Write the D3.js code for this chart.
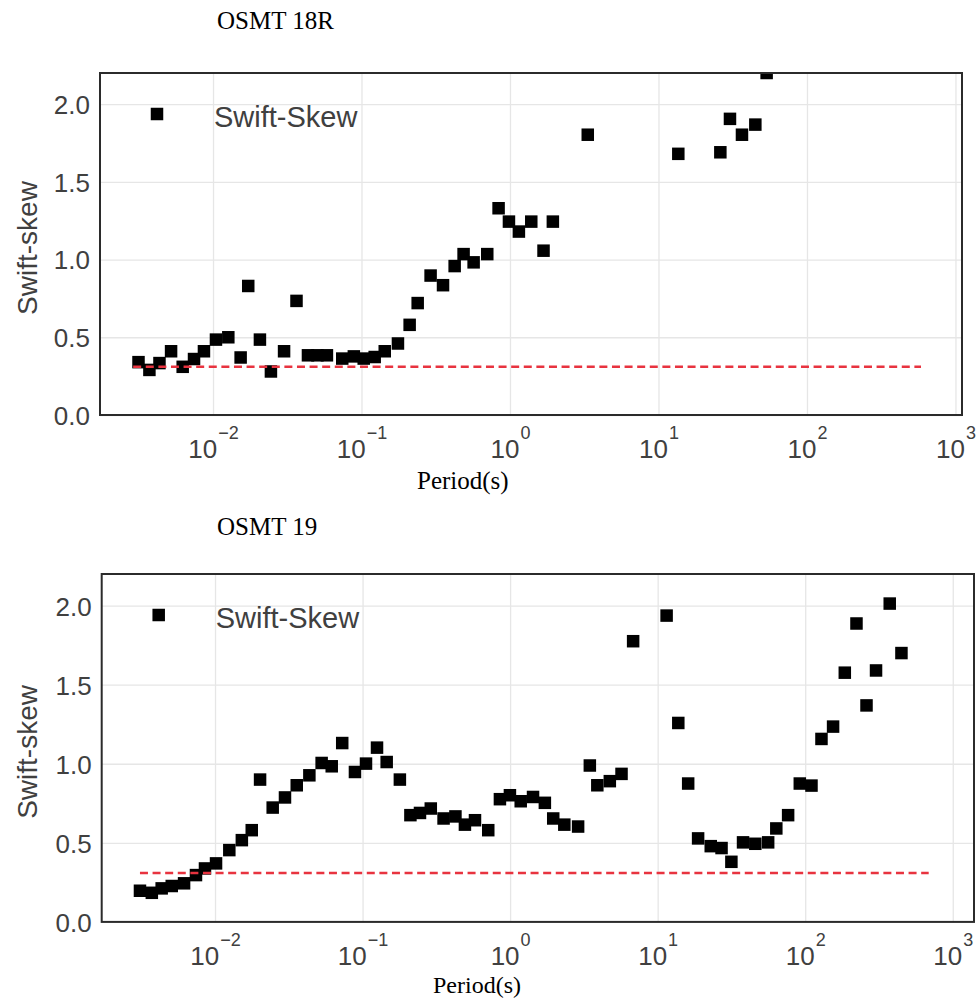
<!DOCTYPE html>
<html>
<head>
<meta charset="utf-8">
<script src="https://cdn.jsdelivr.net/npm/d3@7"></script>
<style>
  body { margin: 0; background: #fff; }
  svg { display: block; }
</style>
</head>
<body>
<div id="chart"></div>
<script>
// data
var yTicks = [0, 0.5, 1.0, 1.5, 2.0];
var xTickExps = [-2, -1, 0, 1, 2, 3];
var thresholdSkew = 0.31;

var topTitle = "OSMT 18R";
var topPeriods = [0.00315, 0.00373, 0.00436, 0.00522, 0.00625, 0.00745, 0.00869, 0.01047, 0.01268, 0.01535,
  0.01727, 0.0207, 0.02455, 0.0301, 0.0365, 0.0436, 0.0505, 0.0585, 0.0742, 0.0888,
  0.1035, 0.1227, 0.1434, 0.176, 0.211, 0.239, 0.292, 0.354, 0.424, 0.487,
  0.569, 0.703, 0.838, 0.984, 1.148, 1.391, 1.682, 1.944, 3.34, 13.6,
  26.1, 30.3, 36.5, 44.9, 53.5];
var topSkew = [0.34, 0.29, 0.334, 0.41, 0.31, 0.36, 0.41, 0.485, 0.50, 0.37,
  0.83, 0.485, 0.28, 0.41, 0.734, 0.384, 0.384, 0.384, 0.363, 0.377,
  0.363, 0.373, 0.41, 0.46, 0.58, 0.72, 0.897, 0.835, 0.958, 1.035,
  0.982, 1.035, 1.33, 1.244, 1.18, 1.244, 1.057, 1.244, 1.803, 1.68,
  1.69, 1.905, 1.803, 1.868, 2.2];
var topThresholdRange = [0.0029, 586];

var bottomTitle = "OSMT 19";
var bottomPeriods = [0.0031, 0.00373, 0.00435, 0.00509, 0.00617, 0.00743, 0.00855, 0.01016, 0.0125, 0.0152,
  0.01774, 0.0202, 0.0246, 0.0298, 0.0358, 0.0436, 0.0528, 0.0618, 0.0728, 0.0888,
  0.1055, 0.1253, 0.1457, 0.179, 0.211, 0.245, 0.290, 0.354, 0.426, 0.494,
  0.578, 0.711, 0.853, 0.997, 1.18, 1.43, 1.72, 1.96, 2.33, 2.89,
  3.47, 3.90, 4.74, 5.69, 6.82, 11.5, 13.8, 16.1, 18.8, 22.9,
  27.1, 31.6, 37.9, 45.9, 56.1, 63.7, 76.6, 91.9, 110.3, 128.9,
  154.5, 185.5, 222.6, 260.3, 302, 374, 449];
var bottomSkew = [0.197, 0.184, 0.212, 0.227, 0.244, 0.296, 0.338, 0.37, 0.454, 0.517,
  0.58, 0.90, 0.723, 0.787, 0.864, 0.927, 1.005, 0.984, 1.131, 0.948,
  1.001, 1.102, 1.011, 0.90, 0.675, 0.689, 0.717, 0.654, 0.667, 0.615,
  0.643, 0.58, 0.776, 0.801, 0.763, 0.79, 0.753, 0.654, 0.615, 0.603,
  0.989, 0.864, 0.89, 0.936, 1.775, 1.937, 1.258, 0.875, 0.528, 0.479,
  0.467, 0.38, 0.503, 0.494, 0.503, 0.591, 0.675, 0.875, 0.862, 1.157,
  1.235, 1.576, 1.887, 1.369, 1.59, 2.013, 1.70];
var bottomThresholdRange = [0.0031, 687];

var svg = d3.select('#chart').append('svg').attr('width', 977).attr('height', 999);

var tickColor = '#404040';

function drawPanel(id, title, periods, skew, thr, box, xlog, xlabelPos, titleY) {
  var x = d3.scaleLog().domain([Math.pow(10, xlog[0]), Math.pow(10, xlog[1])]).range([box.left, box.right]);
  var y = d3.scaleLinear().domain([0, 2.2]).range([box.bottom, box.top]);
  var g = svg.append('g');

  g.append('clipPath').attr('id', 'clip' + id)
    .append('rect').attr('x', box.left).attr('y', box.top)
    .attr('width', box.right - box.left).attr('height', box.bottom - box.top);

  var xTicks = xTickExps.map(function(e){ return Math.pow(10, e); });

  // grid
  g.append('g').attr('transform', 'translate(0,' + box.bottom + ')')
    .call(d3.axisBottom(x).tickValues(xTicks).tickSize(-(box.bottom - box.top)).tickFormat(''))
    .call(function(s){ s.select('.domain').remove(); s.selectAll('line').attr('stroke', '#e6e6e6').attr('stroke-width', 1.3); });
  g.append('g').attr('transform', 'translate(' + box.left + ',0)')
    .call(d3.axisLeft(y).tickValues(yTicks).tickSize(-(box.right - box.left)).tickFormat(''))
    .call(function(s){ s.select('.domain').remove(); s.selectAll('line').attr('stroke', '#e6e6e6').attr('stroke-width', 1.3); });

  // tick labels
  var xa = g.append('g').attr('transform', 'translate(0,' + box.bottom + ')')
    .call(d3.axisBottom(x).tickValues(xTicks).tickSize(0).tickFormat(''));
  xa.select('.domain').remove();
  xa.selectAll('.tick text').each(function(d, i) {
    var t = d3.select(this).attr('y', 43).attr('dy', null)
      .attr('fill', tickColor).style('font-family', '"Liberation Sans", Arial, sans-serif').style('font-size', '26px');
    t.text('');
    t.append('tspan').text('10');
    t.append('tspan').attr('dy', -19).attr('dx', 1).style('font-size', '18px')
      .text(String(xTickExps[i]).replace('-', '\u2212'));
  });

  var ya = g.append('g').attr('transform', 'translate(' + box.left + ',0)')
    .call(d3.axisLeft(y).tickValues(yTicks).tickSize(0).tickPadding(10).tickFormat(d3.format('.1f')));
  ya.select('.domain').remove();
  ya.selectAll('.tick text').attr('fill', tickColor).attr('dy', '0.36em')
    .style('font-family', '"Liberation Sans", Arial, sans-serif').style('font-size', '26px');

  // points
  var ms = 12.5;
  g.append('g').attr('clip-path', 'url(#clip' + id + ')')
    .selectAll('rect').data(periods).enter().append('rect')
    .attr('x', function(d){ return x(d) - ms / 2; })
    .attr('y', function(d, i){ return y(skew[i]) - ms / 2; })
    .attr('width', ms).attr('height', ms).attr('fill', '#000');

  // threshold, drawn over the points
  g.append('line')
    .attr('x1', x(thr[0])).attr('x2', x(thr[1]))
    .attr('y1', y(thresholdSkew)).attr('y2', y(thresholdSkew))
    .attr('stroke', '#e8333f').attr('stroke-width', 2.5).attr('stroke-dasharray', '8,4.6');

  // frame
  g.append('rect').attr('x', box.left).attr('y', box.top)
    .attr('width', box.right - box.left).attr('height', box.bottom - box.top)
    .attr('fill', 'none').attr('stroke', '#2b2b2b').attr('stroke-width', 2);

  // legend
  g.append('rect').attr('x', box.left + 57 - ms / 2).attr('y', box.top + 41 - ms / 2)
    .attr('width', ms).attr('height', ms).attr('fill', '#000');
  g.append('text').attr('x', box.left + 114).attr('y', box.top + 54)
    .attr('fill', tickColor).style('font-family', '"Liberation Sans", Arial, sans-serif').style('font-size', '29px')
    .text('Swift-Skew');

  // labels
  g.append('text').attr('transform', 'translate(37,' + ((box.top + box.bottom) / 2 + 4) + ') rotate(-90)')
    .attr('text-anchor', 'middle').attr('fill', tickColor)
    .style('font-family', '"Liberation Sans", Arial, sans-serif').style('font-size', '28px')
    .text('Swift-skew');
  g.append('text').attr('x', xlabelPos[0]).attr('y', xlabelPos[1])
    .attr('fill', '#000').style('font-family', '"Liberation Serif", "Times New Roman", serif').style('font-size', xlabelPos[2] + 'px')
    .text('Period(s)');
  g.append('text').attr('x', 217).attr('y', titleY)
    .attr('fill', '#000').style('font-family', '"Liberation Serif", "Times New Roman", serif').style('font-size', '25px')
    .text(title);
}

drawPanel('a', topTitle, topPeriods, topSkew, topThresholdRange,
  {left: 100, right: 962, top: 73, bottom: 415}, [-2.761, 3.044], [417, 489, 25], 29);
drawPanel('b', bottomTitle, bottomPeriods, bottomSkew, bottomThresholdRange,
  {left: 101.7, right: 974, top: 574, bottom: 921.9}, [-2.768, 3.144], [433, 993, 24], 535);
</script>
</body>
</html>
